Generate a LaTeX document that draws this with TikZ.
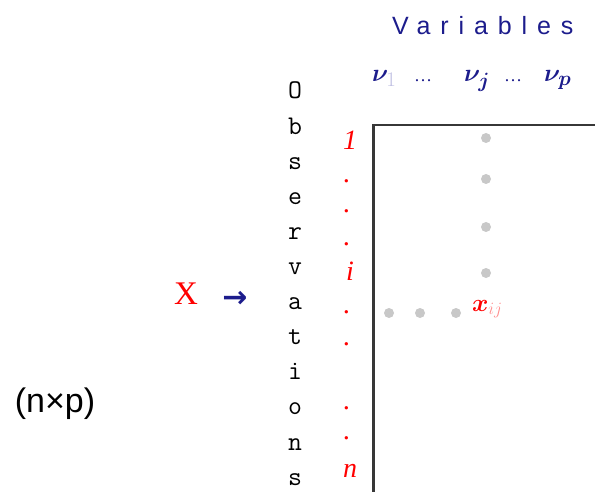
\documentclass[tikz,border=0pt]{standalone}
\usepackage{bm}
\usepackage{fontspec}
\setmainfont{Liberation Serif}
\newfontfamily\sansf{Liberation Sans}
\newfontfamily\varf[LetterSpace=39.5]{Liberation Sans}
\newfontfamily\arrowf{DejaVu Sans}
\definecolor{navy}{RGB}{28,28,140}
\definecolor{fadeblue}{RGB}{190,190,225}
\definecolor{obsred}{RGB}{255,0,0}
\definecolor{pinkred}{RGB}{255,140,140}
\definecolor{dotgray}{RGB}{200,200,200}
\definecolor{framegray}{RGB}{55,55,55}
\tikzset{
  lbl/.style={inner sep=0pt, outer sep=0pt, anchor=base},
  obs/.style={lbl, font=\ttfamily\fontsize{27}{27}\selectfont},
  rowlbl/.style={lbl, text=obsred, font=\itshape\fontsize{28}{28}\selectfont},
  varlbl/.style={lbl, text=navy, font=\fontsize{28}{28}\selectfont},
  gdot/.style={circle, fill=dotgray, inner sep=0pt, minimum size=10pt},
}
\begin{document}
\begin{tikzpicture}[x=1pt,y=-1pt]
\useasboundingbox (0,0) rectangle (595,492);
% frame
\draw[framegray, line width=2.5pt] (600,125) -- (373.5,125) -- (373.5,500);
% title
\node[lbl, anchor=base west, text=navy, font=\varf\fontsize{25}{25}\selectfont] (vars) at (392,35) {Variables};
% variable labels
\node[varlbl, anchor=base west] (v1) at (372,82) {$\bm{\nu}_{\textcolor{fadeblue}{1}}$};
\node[lbl, anchor=base west, text=navy, font=\fontsize{18}{18}\selectfont] (d1) at (414,82) {\ldots};
\node[varlbl, anchor=base west] (vj) at (464,82) {$\bm{\nu}_{\bm{j}}$};
\node[lbl, anchor=base west, text=navy, font=\fontsize{18}{18}\selectfont] (d2) at (504,82) {\ldots};
\node[varlbl, anchor=base west] (vp) at (544,82) {$\bm{\nu}_{\bm{p}}$};
% observations
\foreach \c [count=\k] in {O,b,s,e,r,v,a,t,i,o,n,s}
  \node[obs] (obs\k) at (295,{99+35.1*(\k-1)}) {\c};
% row labels
\node[rowlbl] (r1) at (350,150) {1};
\node[rowlbl] (ri) at (350,280) {i};
\node[rowlbl] (rn) at (350,477) {n};
\foreach \y [count=\k] in {181,211,244,311,343,407,437}
  \node[rowlbl] (rd\k) at (347,\y+2) {.};
% X and arrow
\node[lbl, text=obsred, font=\fontsize{33}{33}\selectfont] (X) at (186,305) {X};
\node[lbl, text=navy, font=\arrowf\bfseries\fontsize{30}{30}\selectfont] (arr) at (235,307) {→};
% (n x p)
\node[lbl, font=\sansf\fontsize{34}{34}\selectfont] (dim) at (55,412) {(n×p)};
% grey dots
\foreach \y [count=\k] in {138,179,227,273}
  \node[gdot] (gc\k) at (486,\y) {};
\foreach \x [count=\k] in {389,420,456}
  \node[gdot] (gr\k) at (\x,313) {};
% element
\node[lbl, anchor=base west, text=obsred, font=\fontsize{26}{26}\selectfont] (xij) at (472,311) {$\bm{x}_{\textcolor{pinkred}{ij}}$};
\end{tikzpicture}
\end{document}
